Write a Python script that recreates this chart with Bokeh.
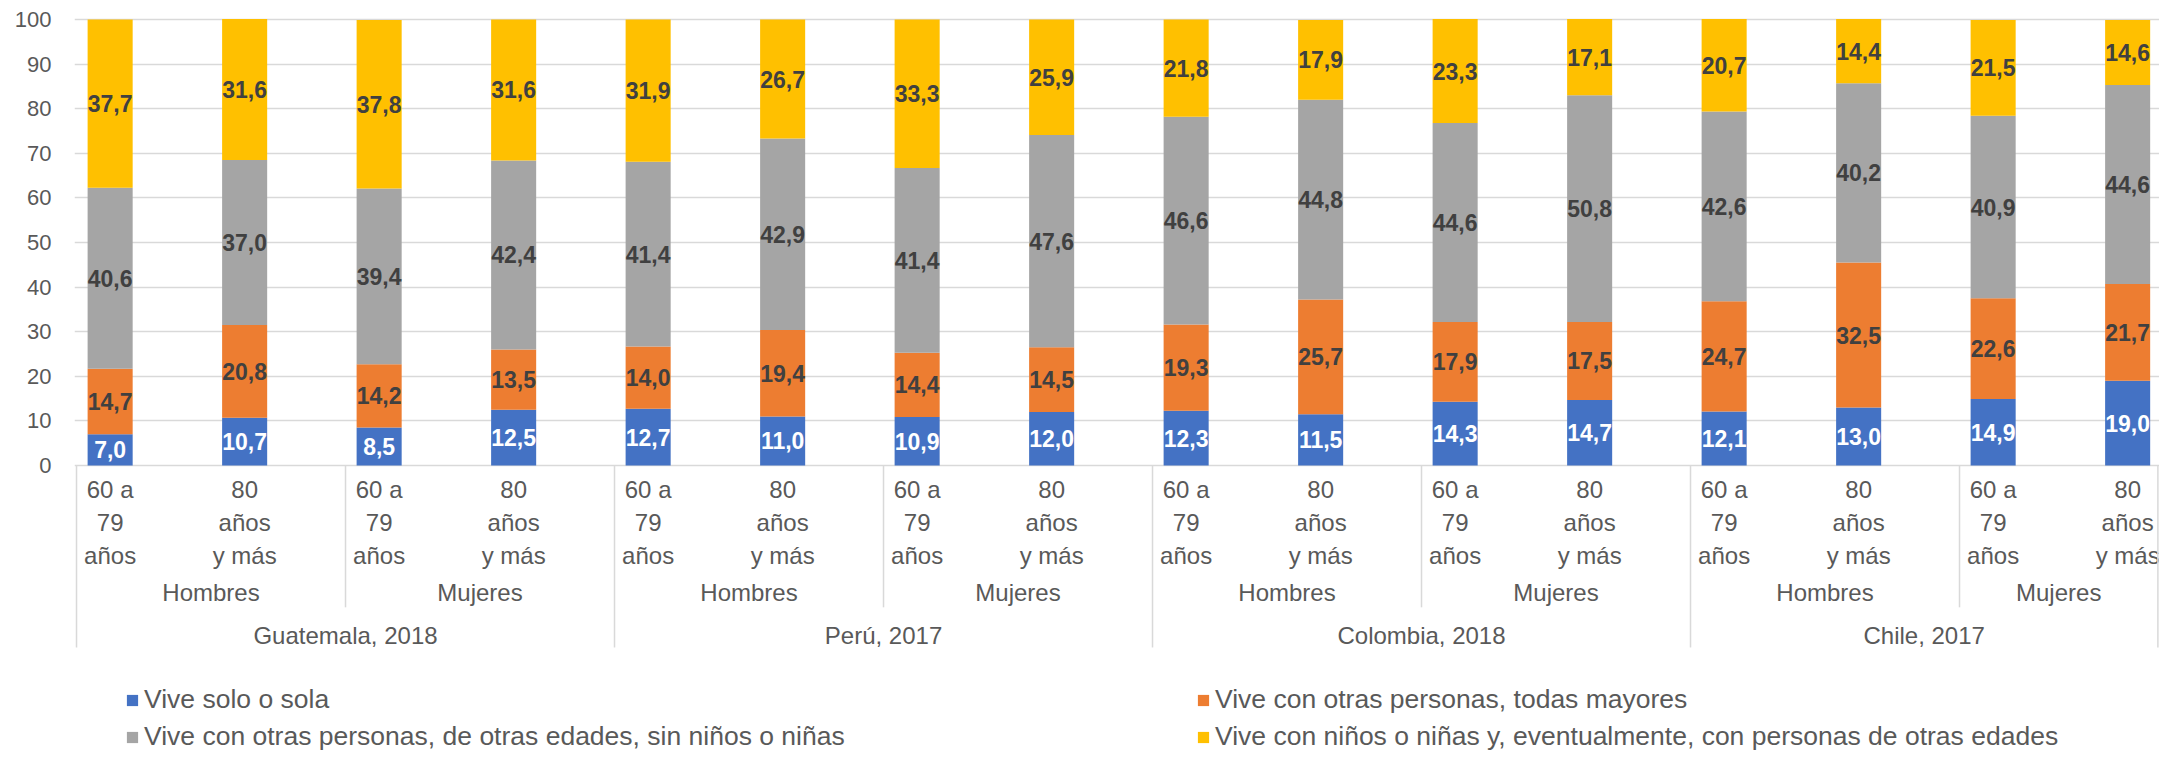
import numpy as np
from bokeh.plotting import figure
from bokeh.models import (ColumnDataSource, Range1d, FixedTicker, Legend, LegendItem)
from bokeh.core.properties import value
from bokeh.embed import file_html
from bokeh.resources import INLINE

# ---------------- data ----------------
countries = ["Guatemala, 2018", "Perú, 2017", "Colombia, 2018", "Chile, 2017"]
sexes = ["Hombres", "Mujeres"]
ages = ["60 a\n79\naños", "80\naños\ny más"]

series_names = [
    "Vive solo o sola",
    "Vive con otras personas, todas mayores",
    "Vive con otras personas, de otras edades, sin niños o niñas",
    "Vive con niños o niñas y, eventualmente, con personas de otras edades",
]
solo = [7.0, 10.7, 8.5, 12.5, 12.7, 11.0, 10.9, 12.0, 12.3, 11.5, 14.3, 14.7, 12.1, 13.0, 14.9, 19.0]
mayores = [14.7, 20.8, 14.2, 13.5, 14.0, 19.4, 14.4, 14.5, 19.3, 25.7, 17.9, 17.5, 24.7, 32.5, 22.6, 21.7]
otras = [40.6, 37.0, 39.4, 42.4, 41.4, 42.9, 41.4, 47.6, 46.6, 44.8, 44.6, 50.8, 42.6, 40.2, 40.9, 44.6]
ninos = [37.7, 31.6, 37.8, 31.6, 31.9, 26.7, 33.3, 25.9, 21.8, 17.9, 23.3, 17.1, 20.7, 14.4, 21.5, 14.6]
y_ticks = [0, 10, 20, 30, 40, 50, 60, 70, 80, 90, 100]

colors = ["#4472C4", "#ED7D31", "#A5A5A5", "#FFC000"]
label_colors = ["#FFFFFF", "#404040", "#404040", "#404040"]
FONT = "Liberation Sans"
TXT = "#595959"
GRID = "#D9D9D9"

# ---------------- layout ----------------
W, H = 2159, 755
n = len(countries) * len(sexes) * len(ages)
x = np.arange(n)
LEFT = 74
slot_px = 134.5
x0 = -0.265
x1 = x0 + (W - LEFT) / slot_px
px_per_unit = 4.46
ytop = 100 + 19 / px_per_unit
ybot = -(H - 465) / px_per_unit

p = figure(width=W, height=H, x_range=Range1d(x0, x1), y_range=Range1d(ybot, ytop),
           output_backend="svg", toolbar_location=None, title=None,
           x_axis_type=None, min_border_left=LEFT, min_border_right=0,
           min_border_top=0, min_border_bottom=0)
p.outline_line_color = None
p.background_fill_color = "white"

ticker = FixedTicker(ticks=y_ticks)
p.yaxis.ticker = ticker
p.ygrid.ticker = ticker
p.ygrid.grid_line_color = GRID
p.ygrid.grid_line_width = 1.5
p.yaxis.axis_line_color = None
p.yaxis.major_tick_line_color = None
p.yaxis.minor_tick_line_color = None
p.yaxis.major_tick_out = 0
p.yaxis.major_label_standoff = 23
p.yaxis.major_label_text_font = FONT
p.yaxis.major_label_text_font_size = "22px"
p.yaxis.major_label_text_color = TXT

# ---------------- bars ----------------
data = dict(x=x, s0=solo, s1=mayores, s2=otras, s3=ninos)
src = ColumnDataSource(data)
rends = p.vbar_stack(["s0", "s1", "s2", "s3"], x="x", width=0.335, color=colors,
                     line_color=None, source=src)

# data labels
vals = [solo, mayores, otras, ninos]
bottom = np.zeros(n)
for k, v in enumerate(vals):
    v = np.array(v)
    mid = bottom + v / 2
    bottom = bottom + v
    lsrc = ColumnDataSource(dict(x=x, y=mid, t=[f"{a:.1f}".replace(".", ",") for a in v]))
    p.text(x="x", y="y", text="t", source=lsrc, text_align="center", text_baseline="middle",
           text_font=value(FONT), text_font_style="bold", text_font_size="23px",
           text_color=label_colors[k])

# ---------------- category axis (multi-level) ----------------
age_labels = [ages[i % 2] for i in range(n)]
csrc = ColumnDataSource(dict(x=x, y=[-12.8] * n, t=age_labels))
p.text(x="x", y="y", text="t", source=csrc, text_align="center", text_baseline="middle",
       text_font=value(FONT), text_font_size="24px", text_color=TXT, text_line_height=1.22)

edge = x1 - 0.012
gx, gy, gt = [], [], []
sep_x, sep_y1 = [], []
for c in range(len(countries)):
    for s in range(len(sexes)):
        g = c * 2 + s
        lo = 2 * g - 0.25
        hi = min(2 * g + 1.75, edge)
        gx.append((lo + hi) / 2)
        gy.append(-28.5)
        gt.append(sexes[s])
        sep_x.append(lo)
        sep_y1.append(-40.8 if s == 0 else -31.8)
cx, cy, ct = [], [], []
for c in range(len(countries)):
    lo = 4 * c - 0.25
    hi = min(4 * c + 3.75, edge)
    cx.append((lo + hi) / 2)
    cy.append(-38.1)
    ct.append(countries[c])
sep_x.append(edge)
sep_y1.append(-40.8)

p.segment(x0=sep_x, y0=[0] * len(sep_x), x1=sep_x, y1=sep_y1, line_color=GRID, line_width=1.5)
p.text(x=gx, y=gy, text=gt, text_align="center", text_baseline="middle",
       text_font=value(FONT), text_font_size="24px", text_color=TXT)
p.text(x=cx, y=cy, text=ct, text_align="center", text_baseline="middle",
       text_font=value(FONT), text_font_size="24px", text_color=TXT)

# ---------------- legend ----------------
def make_legend(idx, loc):
    lg = Legend(items=[LegendItem(label=series_names[i], renderers=[rends[i]]) for i in idx],
                location=loc, orientation="vertical")
    lg.border_line_color = None
    lg.background_fill_alpha = 0
    lg.padding = 0
    lg.margin = 0
    lg.spacing = 6
    lg.glyph_width = 14
    lg.glyph_height = 14
    lg.label_standoff = 5
    lg.label_height = 30
    lg.label_text_font = FONT
    lg.label_text_font_size = "26.5px"
    lg.label_text_color = TXT
    lg.label_text_baseline = "middle"
    return lg

p.add_layout(make_legend([0, 2], (51, 3)))
p.add_layout(make_legend([1, 3], (1122, 3)))

open("out.html", "w").write(file_html(p, INLINE))
